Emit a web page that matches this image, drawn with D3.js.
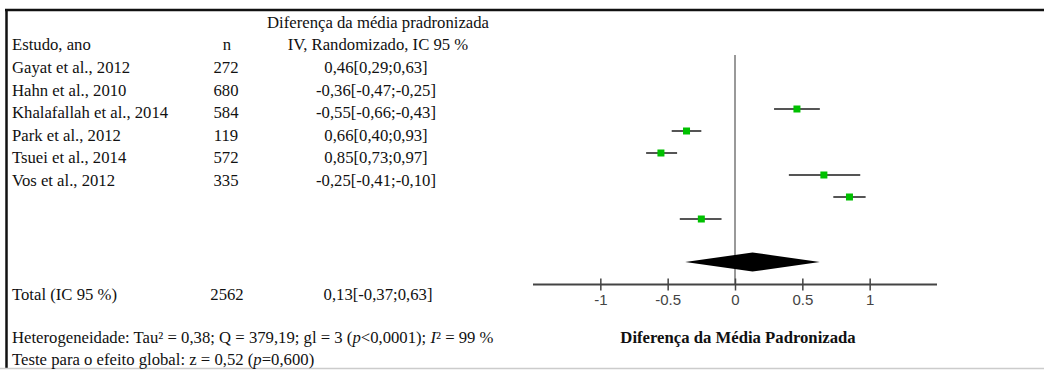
<!DOCTYPE html>
<html>
<head>
<meta charset="utf-8">
<script src="https://cdn.jsdelivr.net/npm/d3@7"></script>
<style>
  body { margin: 0; background: #fff; }
  svg { display: block; }
  .txt { font-family: "Liberation Serif", "Times New Roman", serif; font-size: 16.7px; fill: #111; }
  .axis text { font-family: "Liberation Sans", Arial, sans-serif; font-size: 15px; fill: #444; }
</style>
</head>
<body>
<div id="chart"></div>
<script>
// study data
let studies = ['Gayat et al., 2012', 'Hahn et al., 2010', 'Khalafallah et al., 2014',
               'Park et al., 2012', 'Tsuei et al., 2014', 'Vos et al., 2012'];
let counts = [272, 680, 584, 119, 572, 335];
let effects = [0.46, -0.36, -0.55, 0.66, 0.85, -0.25];
let lower = [0.29, -0.47, -0.66, 0.40, 0.73, -0.41];
let upper = [0.63, -0.25, -0.43, 0.93, 0.97, -0.10];
let effectLabels = ['0,46[0,29;0,63]', '-0,36[-0,47;-0,25]', '-0,55[-0,66;-0,43]',
                    '0,66[0,40;0,93]', '0,85[0,73;0,97]', '-0,25[-0,41;-0,10]'];

// pooled estimate
let total = {label: 'Total (IC 95 %)', n: 2562, est: 0.13, lo: -0.37, hi: 0.63, text: '0,13[-0,37;0,63]'};
let tickValues = [-1, -0.5, 0, 0.5, 1];

let width = 1044;
let height = 370;

let svg = d3.select('#chart')
            .append('svg')
            .attr('width', width)
            .attr('height', height);

// frame: heavy top and left, light bottom
svg.append('line').attr('x1', 5).attr('x2', width).attr('y1', 10).attr('y2', 10)
   .attr('stroke', '#111').attr('stroke-width', 2.5);
svg.append('line').attr('x1', 6.5).attr('x2', 6.5).attr('y1', 9).attr('y2', 368)
   .attr('stroke', '#111').attr('stroke-width', 2.5);
svg.append('line').attr('x1', 0).attr('x2', width).attr('y1', 368.5).attr('y2', 368.5)
   .attr('stroke', '#ccc').attr('stroke-width', 1.5);

// table rows
let rowY = d3.scalePoint().domain(studies).range([73, 186]);

svg.append('text').attr('class', 'txt').attr('x', 378).attr('y', 28)
   .attr('text-anchor', 'middle').text('Diferença da média pradronizada');
svg.append('text').attr('class', 'txt').attr('x', 12).attr('y', 50).text('Estudo, ano');
svg.append('text').attr('class', 'txt').attr('x', 227).attr('y', 50)
   .attr('text-anchor', 'middle').text('n');
svg.append('text').attr('class', 'txt').attr('x', 378).attr('y', 50)
   .attr('text-anchor', 'middle').text('IV, Randomizado, IC 95 %');

let rows = svg.append('g').selectAll('g')
              .data(studies)
              .join('g');

rows.append('text').attr('class', 'txt')
    .attr('x', 12).attr('y', d => rowY(d)).text(d => d);
rows.append('text').attr('class', 'txt')
    .attr('x', 226).attr('y', d => rowY(d)).attr('text-anchor', 'middle')
    .text((d, i) => counts[i]);
rows.append('text').attr('class', 'txt')
    .attr('x', 376).attr('y', d => rowY(d)).attr('text-anchor', 'middle')
    .text((d, i) => effectLabels[i]);

svg.append('text').attr('class', 'txt').attr('x', 12).attr('y', 300).text(total.label);
svg.append('text').attr('class', 'txt').attr('x', 227).attr('y', 300)
   .attr('text-anchor', 'middle').text(total.n);
svg.append('text').attr('class', 'txt').attr('x', 378).attr('y', 300)
   .attr('text-anchor', 'middle').text(total.text);

// heterogeneity footer
let het = svg.append('text').attr('class', 'txt').attr('x', 12).attr('y', 343);
het.append('tspan').text('Heterogeneidade: Tau² = 0,38; Q = 379,19; gl = 3 (');
het.append('tspan').attr('font-style', 'italic').text('p');
het.append('tspan').text('<0,0001); ');
het.append('tspan').attr('font-style', 'italic').text('I');
het.append('tspan').text('² = 99 %');

let zt = svg.append('text').attr('class', 'txt').attr('x', 12).attr('y', 365);
zt.append('tspan').text('Teste para o efeito global: z = 0,52 (');
zt.append('tspan').attr('font-style', 'italic').text('p');
zt.append('tspan').text('=0,600)');

// forest plot
let x = d3.scaleLinear().domain([-1.5, 1.5]).range([533, 937]);
let plotY = d3.scalePoint().domain(studies).range([109, 219]);
let axisY = 284.5;

// line of no effect
svg.append('line')
   .attr('x1', x(0)).attr('x2', x(0))
   .attr('y1', 55).attr('y2', axisY)
   .attr('stroke', '#999').attr('stroke-width', 2);

// confidence intervals
svg.append('g').selectAll('line')
   .data(studies)
   .join('line')
   .attr('x1', (d, i) => x(lower[i]))
   .attr('x2', (d, i) => x(upper[i]))
   .attr('y1', d => plotY(d))
   .attr('y2', d => plotY(d))
   .attr('stroke', '#555').attr('stroke-width', 2);

// point estimates
svg.append('g').selectAll('rect')
   .data(studies)
   .join('rect')
   .attr('x', (d, i) => x(effects[i]) - 3.5)
   .attr('y', d => plotY(d) - 3.5)
   .attr('width', 7).attr('height', 7)
   .attr('fill', '#00c000');

// pooled diamond
let dy = 262;
svg.append('path')
   .attr('d', d3.line()([[x(total.lo), dy], [x(total.est), dy - 9.5],
                         [x(total.hi), dy], [x(total.est), dy + 9.5]]) + 'Z')
   .attr('fill', '#000');

// x axis
let axis = svg.append('g')
              .attr('class', 'axis')
              .attr('transform', 'translate(0,' + axisY + ')')
              .call(d3.axisBottom(x).tickValues(tickValues).tickSize(5).tickSizeOuter(0));
axis.select('.domain').attr('stroke', '#444').attr('stroke-width', 2)
    .attr('d', 'M' + x.range()[0] + ',0H' + x.range()[1]);
axis.selectAll('.tick line').attr('y1', -6).attr('y2', 6)
    .attr('stroke', '#444').attr('stroke-width', 1.5);
axis.selectAll('.tick text').attr('y', 10).attr('dy', '0.71em')
    .text(d => String(d));

svg.append('text')
   .attr('x', 738).attr('y', 343)
   .attr('text-anchor', 'middle')
   .attr('font-family', '"Liberation Serif", "Times New Roman", serif')
   .attr('font-size', 16.7).attr('font-weight', 'bold').attr('fill', '#111')
   .text('Diferença da Média Padronizada');
</script>
</body>
</html>
